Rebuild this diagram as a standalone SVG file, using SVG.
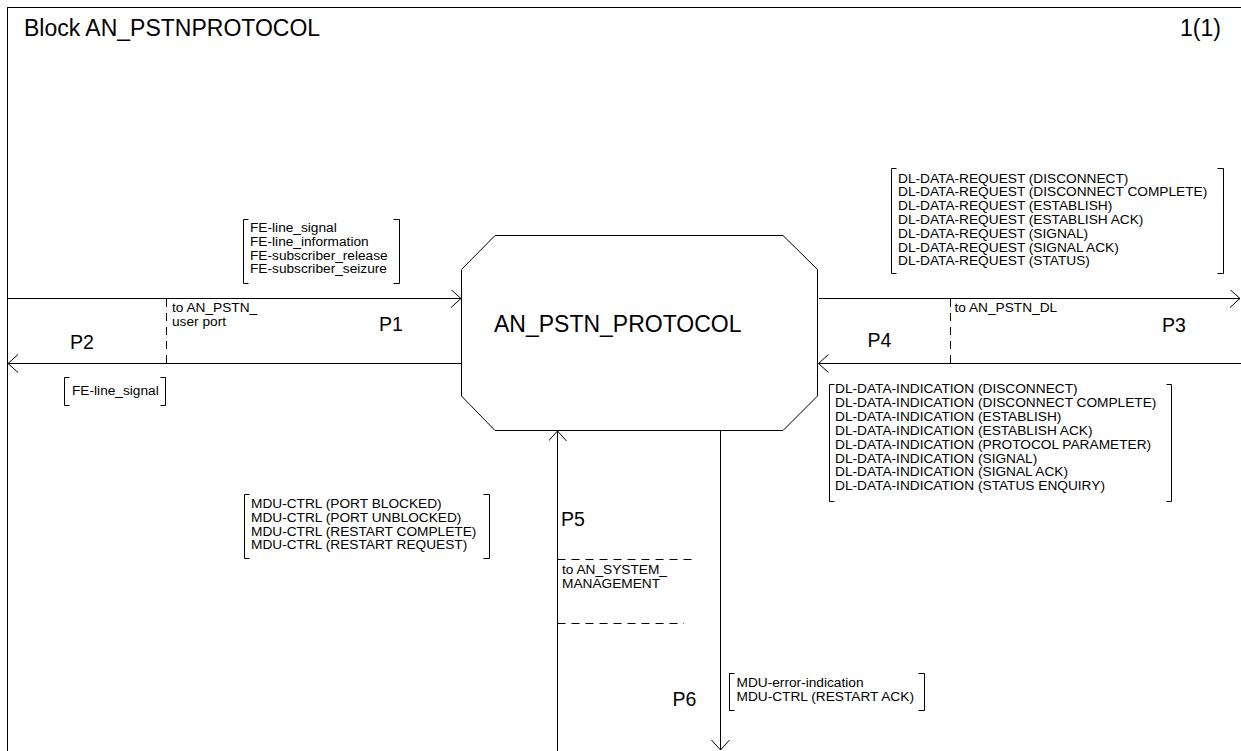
<svg xmlns="http://www.w3.org/2000/svg" width="1241" height="751" viewBox="0 0 1241 751">
<defs>
<style>
.ln{fill:none;stroke:#000;stroke-width:1}
.ds{fill:none;stroke:#000;stroke-width:1;stroke-dasharray:8 6}
.br{fill:none;stroke:#000;stroke-width:1}
.t{font-family:"Liberation Sans",Arial,sans-serif;fill:#000}
.big{font-size:23px}
.pl{font-size:19.5px}
.sm{font-size:13.7px}
</style>
<marker id="arr" viewBox="0 0 12 20" refX="10.5" refY="9" markerWidth="12" markerHeight="20" markerUnits="userSpaceOnUse" orient="auto">
<path d="M0.5,0 L10.5,9 L0.5,18" fill="none" stroke="#000" stroke-width="1"/>
</marker>
</defs>
<rect x="0" y="0" width="1241" height="751" fill="#fff"/>
<g id="frame">
<rect x="7.5" y="7.5" width="1250" height="760" class="ln"/>
<text x="24" y="36" class="t big">Block AN_PSTNPROTOCOL</text>
<text x="1180" y="36" class="t big">1(1)</text>
</g>
<g id="an_pstn_protocol">
<polygon points="495,235.5 783,235.5 817.5,269.5 817.5,396 783,430.5 495,430.5 461.5,396 461.5,269.5" class="ln" fill="#fff"/>
<text x="494" y="332" class="t big">AN_PSTN_PROTOCOL</text>
</g>
<g id="connectors">
<line x1="7.5" y1="298.5" x2="461" y2="298.5" class="ln" marker-end="url(#arr)"/>
<line x1="461.5" y1="363.5" x2="8" y2="363.5" class="ln" marker-end="url(#arr)"/>
<line x1="819" y1="298.5" x2="1240" y2="298.5" class="ln" marker-end="url(#arr)"/>
<line x1="1241" y1="363.5" x2="818.5" y2="363.5" class="ln" marker-end="url(#arr)"/>
<line x1="557.5" y1="751" x2="557.5" y2="431" class="ln" marker-end="url(#arr)"/>
<line x1="720.5" y1="431" x2="720.5" y2="750" class="ln" marker-end="url(#arr)"/>
</g>
<g id="gate_userport">
<path d="M166.5,299 V363 M167,298.5 H300 M167,363.5 H293" class="ds"/>
<text x="172" y="311.5" class="t sm">to AN_PSTN_</text>
<text x="172" y="326" class="t sm">user port</text>
</g>
<g id="gate_dl">
<path d="M950.5,299 V363 M951,298.5 H1083 M951,363.5 H1077" class="ds"/>
<text x="954.5" y="311.5" class="t sm">to AN_PSTN_DL</text>
</g>
<g id="gate_sysmgmt">
<path d="M557.5,559.5 H694 M557.5,623.5 H684 M557.5,560 V623" class="ds"/>
<text x="562" y="574" class="t sm">to AN_SYSTEM_</text>
<text x="562" y="587.5" class="t sm">MANAGEMENT</text>
</g>
<g id="labels">
<text x="379" y="331" class="t pl">P1</text>
<text x="70" y="348.5" class="t pl">P2</text>
<text x="1162" y="332" class="t pl">P3</text>
<text x="867.5" y="347" class="t pl">P4</text>
<text x="561" y="526" class="t pl">P5</text>
<text x="672.5" y="706" class="t pl">P6</text>
</g>
<g id="sig_p1">
<path d="M248.5,219.5 H243.5 V283.5 H248.5 M393.5,219.5 H399.5 V283.5 H393.5" class="br"/>
<text class="t sm"><tspan x="250" y="232">FE-line_signal</tspan><tspan x="250" y="245.8">FE-line_information</tspan><tspan x="250" y="259.6">FE-subscriber_release</tspan><tspan x="250" y="273.4">FE-subscriber_seizure</tspan></text>
</g>
<g id="sig_p2">
<path d="M69.5,377.5 H64.5 V405.5 H69.5 M160.5,377.5 H165.5 V405.5 H160.5" class="br"/>
<text x="72" y="394.5" class="t sm">FE-line_signal</text>
</g>
<g id="sig_p3">
<path d="M896.5,168.5 H891.5 V273.5 H896.5 M1217.5,168.5 H1223.5 V273.5 H1217.5" class="br"/>
<text class="t sm"><tspan x="898" y="182.5">DL-DATA-REQUEST (DISCONNECT)</tspan><tspan x="898" y="196.3">DL-DATA-REQUEST (DISCONNECT COMPLETE)</tspan><tspan x="898" y="210.1">DL-DATA-REQUEST (ESTABLISH)</tspan><tspan x="898" y="223.9">DL-DATA-REQUEST (ESTABLISH ACK)</tspan><tspan x="898" y="237.7">DL-DATA-REQUEST (SIGNAL)</tspan><tspan x="898" y="251.5">DL-DATA-REQUEST (SIGNAL ACK)</tspan><tspan x="898" y="265.3">DL-DATA-REQUEST (STATUS)</tspan></text>
</g>
<g id="sig_p4">
<path d="M834.5,384.5 H829.5 V501.5 H834.5 M1166.5,384.5 H1171.5 V501.5 H1166.5" class="br"/>
<text class="t sm"><tspan x="835" y="393">DL-DATA-INDICATION (DISCONNECT)</tspan><tspan x="835" y="406.9">DL-DATA-INDICATION (DISCONNECT COMPLETE)</tspan><tspan x="835" y="420.8">DL-DATA-INDICATION (ESTABLISH)</tspan><tspan x="835" y="434.7">DL-DATA-INDICATION (ESTABLISH ACK)</tspan><tspan x="835" y="448.6">DL-DATA-INDICATION (PROTOCOL PARAMETER)</tspan><tspan x="835" y="462.5">DL-DATA-INDICATION (SIGNAL)</tspan><tspan x="835" y="476.4">DL-DATA-INDICATION (SIGNAL ACK)</tspan><tspan x="835" y="490.3">DL-DATA-INDICATION (STATUS ENQUIRY)</tspan></text>
</g>
<g id="sig_p5">
<path d="M249.5,494.5 H244.5 V558.5 H249.5 M483.5,494.5 H489.5 V558.5 H483.5" class="br"/>
<text class="t sm"><tspan x="251" y="508">MDU-CTRL (PORT BLOCKED)</tspan><tspan x="251" y="521.8">MDU-CTRL (PORT UNBLOCKED)</tspan><tspan x="251" y="535.6">MDU-CTRL (RESTART COMPLETE)</tspan><tspan x="251" y="549.4">MDU-CTRL (RESTART REQUEST)</tspan></text>
</g>
<g id="sig_p6">
<path d="M734.5,673.5 H729.5 V710.5 H734.5 M918.5,673.5 H924.5 V710.5 H918.5" class="br"/>
<text class="t sm"><tspan x="736.5" y="687">MDU-error-indication</tspan><tspan x="736.5" y="700.8">MDU-CTRL (RESTART ACK)</tspan></text>
</g>
</svg>
